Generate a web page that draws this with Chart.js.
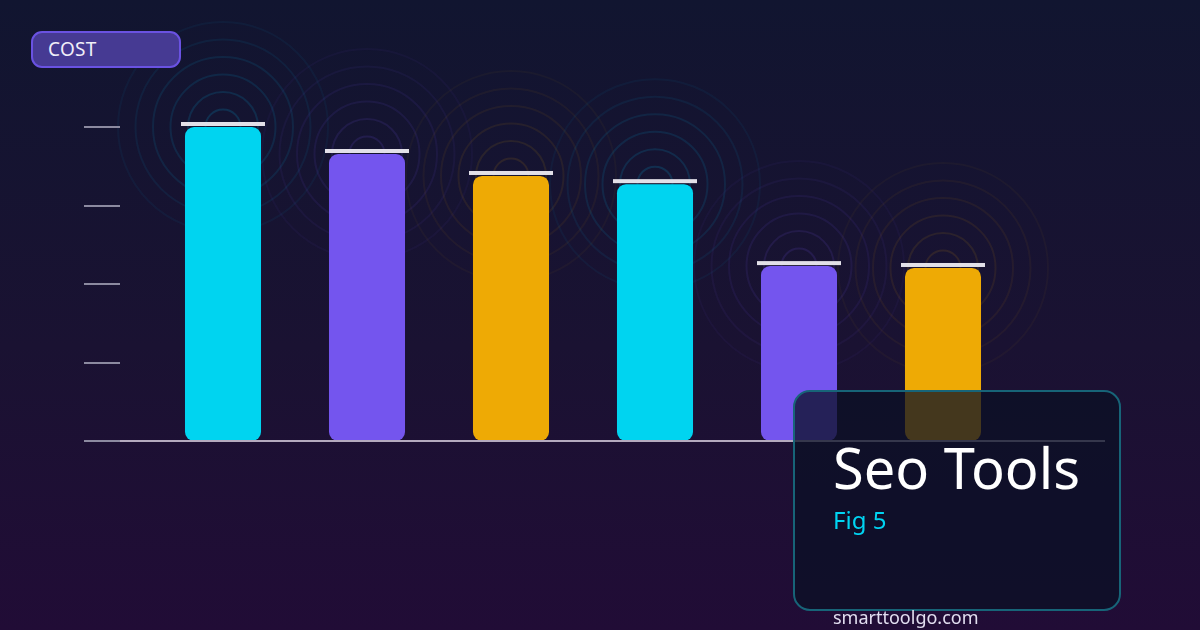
<!DOCTYPE html>
<html>
<head>
<meta charset="utf-8">
<script src="https://cdn.jsdelivr.net/npm/chart.js@4/dist/chart.umd.min.js"></script>
<style>
  html, body { margin: 0; padding: 0; }
  body {
    width: 1200px; height: 630px; overflow: hidden; position: relative;
    background: linear-gradient(180deg, #111530 0%, #1a1232 55%, #210c36 100%);
    font-family: 'Noto Sans', sans-serif;
  }
  #chart { position: absolute; left: 0; top: 0; }
  .pill {
    position: absolute; left: 31px; top: 31px; width: 146px; height: 33px;
    background: #463a93; border: 2px solid #6a52e2; border-radius: 11px;
    box-sizing: content-box;
  }
  .pill span {
    position: absolute; left: 15px; top: 3px; color: #f0eef8; font-size: 19px;
    letter-spacing: 0.3px;
  }
  .card {
    position: absolute; left: 793px; top: 390px; width: 324px; height: 217px;
    background: rgba(11, 16, 38, 0.75); border: 2px solid #176478; border-radius: 17px;
  }
  .title { position: absolute; left: 833px; top: 439px; color: #ffffff; font-size: 56px; line-height: 1; white-space: nowrap; }
  .fig { position: absolute; left: 833px; top: 508px; color: #00d4f2; font-size: 24px; line-height: 1; }
  .site { position: absolute; left: 833px; top: 608px; color: #e2def0; font-size: 18px; line-height: 1; }
</style>
</head>
<body>
<canvas id="chart" width="1200" height="630"></canvas>
<div class="pill"><span>COST</span></div>
<div class="card"></div>
<div class="title">Seo Tools</div>
<div class="fig">Fig 5</div>
<div class="site">smarttoolgo.com</div>
<script>
// データ
const labels = ['Tool 1', 'Tool 2', 'Tool 3', 'Tool 4', 'Tool 5', 'Tool 6'];
const costs = [100, 91.4, 84.4, 81.8, 55.7, 55.1];
const tickValues = [0, 25, 50, 75, 100];
const barColors = ['#00d4f0', '#7455ee', '#eeaa05', '#00d4f0', '#7455ee', '#eeaa05'];
const ringRgb = ['0,190,240', '116,85,238', '238,170,5', '0,190,240', '116,85,238', '238,170,5'];
const ringStrength = [1, 0.9, 0.7, 1, 0.9, 0.7];

// 背景の同心円（外側ほど薄く）
const ringsPlugin = {
  id: 'rings',
  beforeDatasetsDraw(chart) {
    const { ctx } = chart;
    const meta = chart.getDatasetMeta(0);
    ctx.save();
    ctx.lineWidth = 2;
    meta.data.forEach((bar, i) => {
      for (let k = 1; k <= 6; k++) {
        const alpha = (0.16 - (k - 1) * 0.021) * ringStrength[i];
        ctx.strokeStyle = `rgba(${ringRgb[i]},${alpha})`;
        ctx.beginPath();
        ctx.arc(bar.x, bar.y, k * 17.5, 0, Math.PI * 2);
        ctx.stroke();
      }
    });
    ctx.restore();
  },
};

// 目盛り線・基線・バー上のキャップ
const axisPlugin = {
  id: 'axisMarks',
  afterDatasetsDraw(chart) {
    const { ctx, scales } = chart;
    const y = scales.y;
    ctx.save();
    ctx.fillStyle = '#8c8aa0';
    tickValues.forEach((v) => {
      const py = Math.round(y.getPixelForValue(v));
      ctx.fillRect(84, py - 1, 36, 2);
    });
    const base = Math.round(y.getPixelForValue(0));
    ctx.fillStyle = '#b4aabe';
    ctx.fillRect(120, base - 1, 985, 2);

    const meta = chart.getDatasetMeta(0);
    ctx.fillStyle = '#e2e0e8';
    meta.data.forEach((bar) => {
      ctx.fillRect(bar.x - 42, bar.y - 5, 84, 4);
    });
    ctx.restore();
  },
};

new Chart(document.getElementById('chart'), {
  type: 'bar',
  data: {
    labels,
    datasets: [
      {
        label: 'COST',
        data: costs,
        backgroundColor: barColors,
        borderRadius: 9,
        borderSkipped: false,
        categoryPercentage: 1,
        barPercentage: 0.528,
      },
    ],
  },
  options: {
    responsive: false,
    animation: false,
    layout: { padding: { left: 151, right: 185, top: 127, bottom: 189 } },
    plugins: { legend: { display: false }, tooltip: { enabled: false } },
    scales: {
      x: { display: false },
      y: { display: false, min: 0, max: 100 },
    },
  },
  plugins: [ringsPlugin, axisPlugin],
});
</script>
</body>
</html>
